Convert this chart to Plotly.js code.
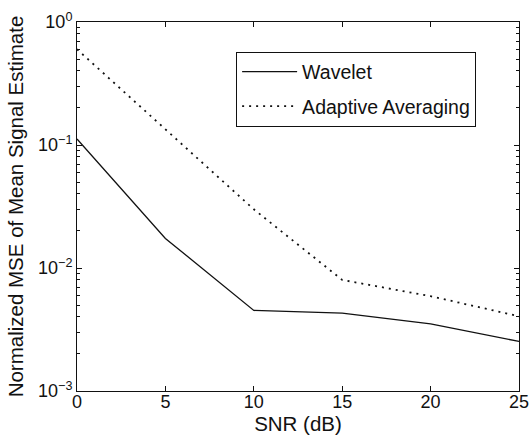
<!DOCTYPE html>
<html>
<head>
<meta charset="utf-8">
<script src="https://cdn.plot.ly/plotly-3.0.1.min.js"></script>
<style>html,body{margin:0;padding:0;background:#fff;}#chart{width:530px;height:439px;}</style>
</head>
<body>
<div id="chart"></div>
<script>
var snr = [0, 5, 10, 15, 20, 25];
var wavelet = [0.112, 0.0174, 0.00452, 0.0043, 0.00352, 0.00253];
var adaptive = [0.60, 0.135, 0.030, 0.0080, 0.0059, 0.00405];
var seriesNames = ['Wavelet', 'Adaptive Averaging'];
var yTickVals = [1, 0.1, 0.01, 0.001];
var yTickText = ['10<sup>0</sup>', '10<sup>\u22121</sup>', '10<sup>\u22122</sup>', '10<sup>\u22123</sup>'];

var minorVals = [];
[0.001, 0.01, 0.1].forEach(function (d) { for (var k = 2; k <= 9; k++) minorVals.push(d * k); });

var family = '"Liberation Sans", Arial, sans-serif';
var titleFont = {family: family, size: 20.5, color: '#111'};
var legendFont = {family: family, size: 19.5, color: '#111'};
var tickFont = {family: family, size: 18, color: '#111'};

var traces = [
  {x: snr, y: wavelet, name: seriesNames[0], type: 'scatter', mode: 'lines',
   legendgroup: 'a', line: {color: '#111', width: 1.3}},
  {x: snr, y: adaptive, name: seriesNames[1], type: 'scatter', mode: 'lines',
   legendgroup: 'b', line: {color: '#111', width: 1.8, dash: '2px,5px'}}
];

var layout = {
  width: 530, height: 439,
  margin: {l: 77, r: 11, t: 22, b: 48},
  paper_bgcolor: '#fff', plot_bgcolor: '#fff',
  font: titleFont,
  showlegend: true,
  legend: {x: 0.36, y: 0.92, xanchor: 'left', yanchor: 'top',
           bordercolor: '#111', borderwidth: 1, bgcolor: '#fff',
           font: legendFont, itemwidth: 55, tracegroupgap: 6, traceorder: 'grouped'},
  xaxis: {range: [0, 25], tickmode: 'array', tickvals: snr, ticks: 'inside', ticklen: 5,
          tickcolor: '#111', showline: true, linecolor: '#111', linewidth: 1, mirror: 'allticks',
          showgrid: false, zeroline: false, tickfont: tickFont, ticklabelstandoff: -6,
          title: {text: 'SNR (dB)', font: titleFont, standoff: 0}},
  yaxis: {type: 'log', range: [-3, 0], tickmode: 'array', tickvals: yTickVals, ticktext: yTickText,
          ticks: 'inside', ticklen: 5, tickcolor: '#111', showline: true, linecolor: '#111',
          linewidth: 1, mirror: 'allticks', showgrid: false, zeroline: false, tickfont: tickFont,
          minor: {tickmode: 'array', tickvals: minorVals, ticks: 'inside', ticklen: 3, tickcolor: '#111', showgrid: false},
          title: {text: 'Normalized MSE of Mean Signal Estimate', font: titleFont, standoff: 8}}
};

Plotly.newPlot('chart', traces, layout, {displayModeBar: false, staticPlot: true});
</script>
</body>
</html>
